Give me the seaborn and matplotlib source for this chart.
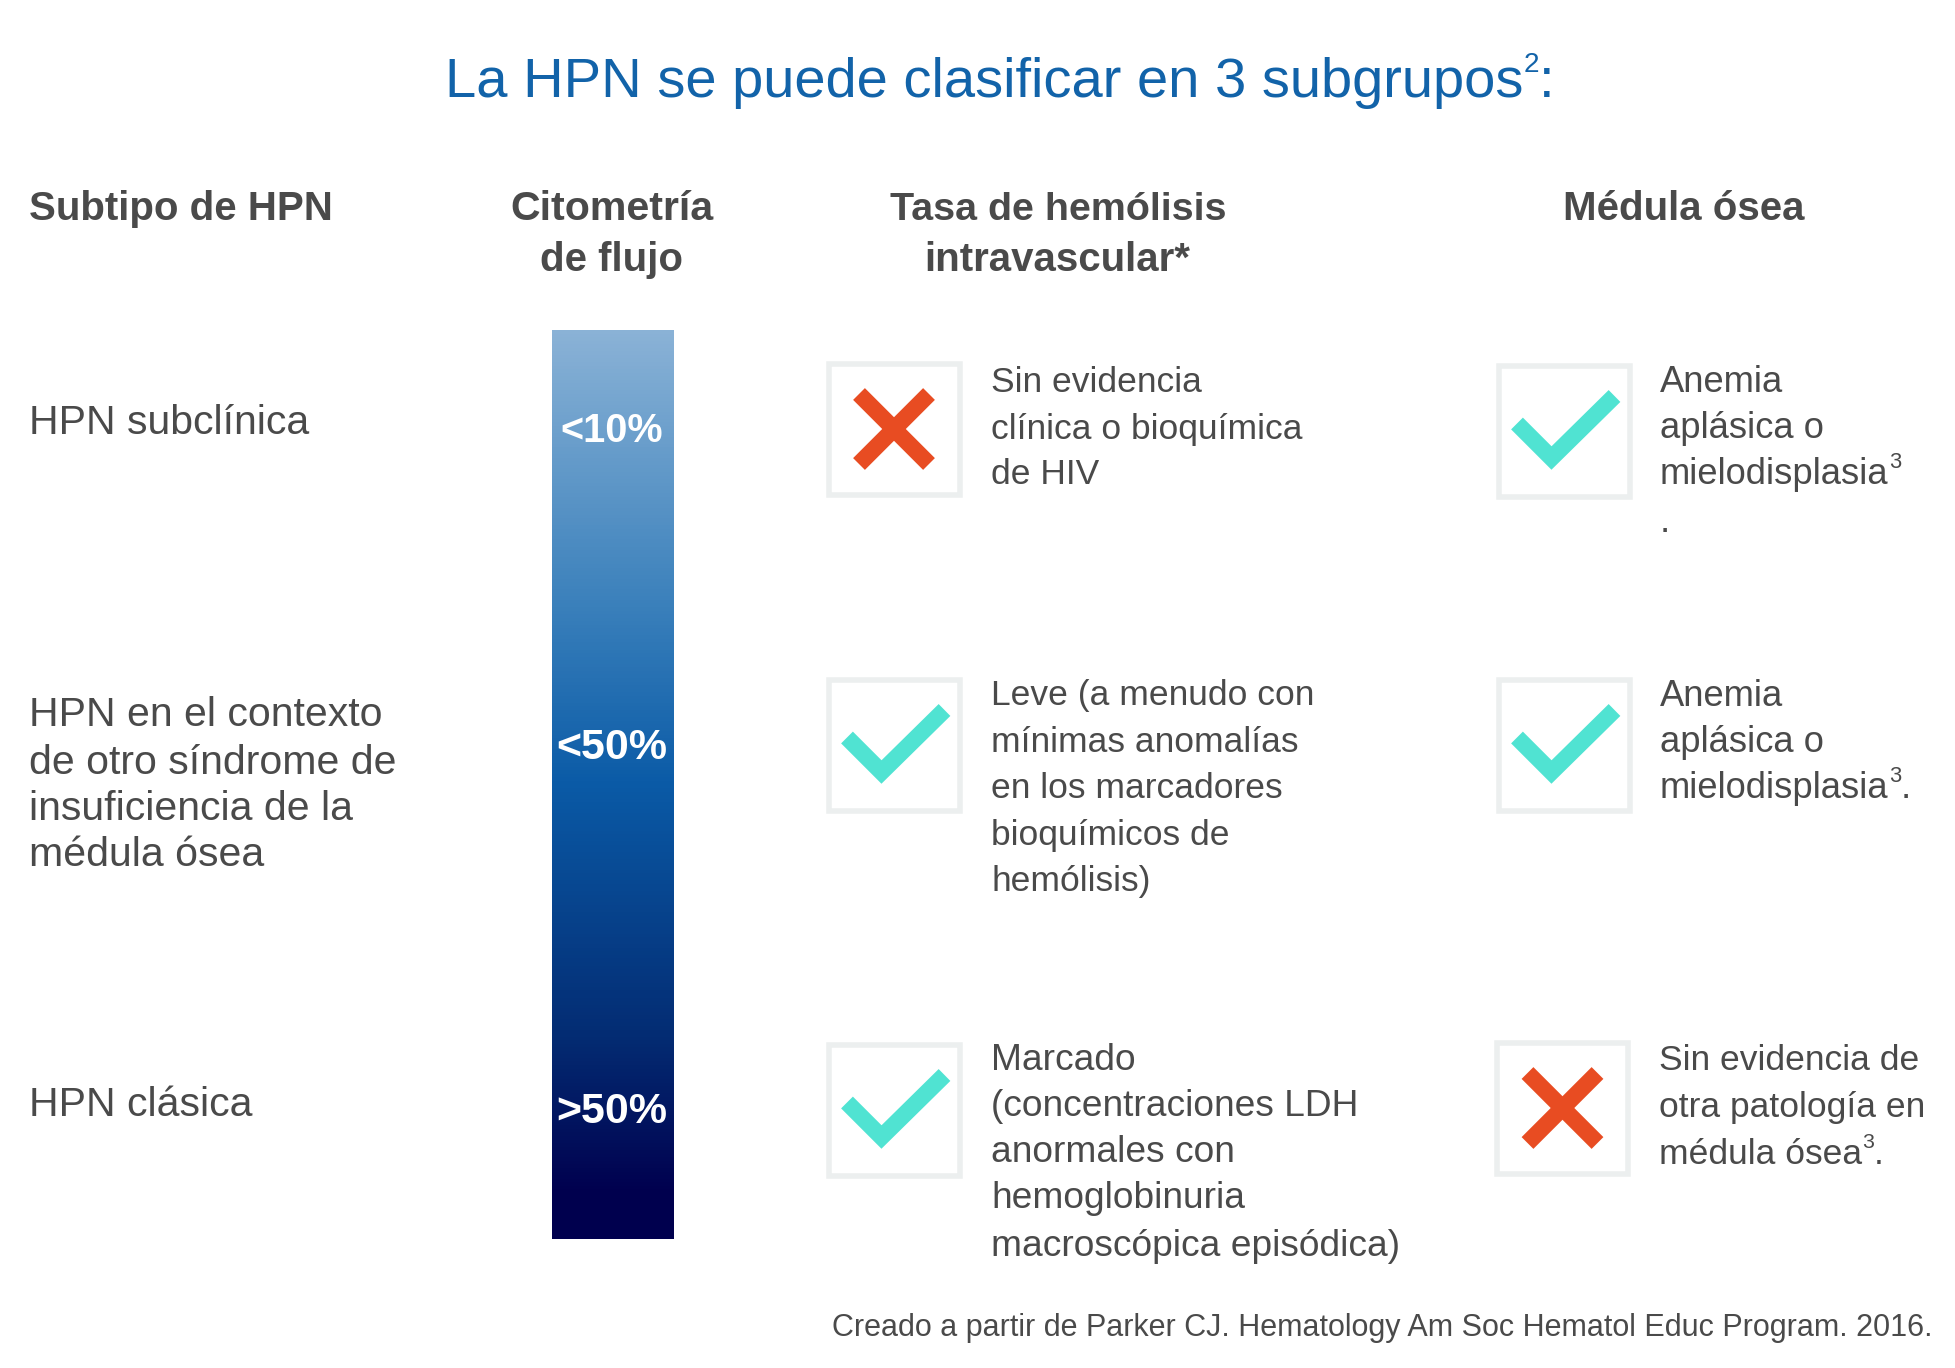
import numpy as np
import matplotlib
matplotlib.use("Agg")
import matplotlib.pyplot as plt
from matplotlib.colors import LinearSegmentedColormap
from matplotlib.patches import Rectangle
import seaborn as sns

# chart content
title = "La HPN se puede clasificar en 3 subgrupos"
title_note = "2"
subtypes = [["HPN subclínica"],
            ["HPN en el contexto", "de otro síndrome de", "insuficiencia de la", "médula ósea"],
            ["HPN clásica"]]
flow_labels = ["<10%", "<50%", ">50%"]
hemolysis_marks = ["no", "yes", "yes"]
marrow_marks = ["yes", "yes", "no"]
hemolysis_text = [["Sin evidencia", "clínica o bioquímica", "de HIV"],
                  ["Leve (a menudo con", "mínimas anomalías", "en los marcadores", "bioquímicos de", "hemólisis)"],
                  ["Marcado", "(concentraciones LDH", "anormales con", "hemoglobinuria", "macroscópica episódica)"]]
marrow_text = [["Anemia", "aplásica o", "mielodisplasia", "."],
               ["Anemia", "aplásica o", "mielodisplasia"],
               ["Sin evidencia de", "otra patología en", "médula ósea"]]
source = "Creado a partir de Parker CJ. Hematology Am Soc Hematol Educ Program. 2016."

# colour ramp of the flow cytometry bar, top to bottom
ramp_stops = [0.0, 0.30, 0.50, 0.78, 0.95, 1.0]
ramp_colors = ["#8AB2D6", "#3A80BB", "#0A5AA6", "#032B72", "#00004E", "#00004E"]

# layout in pixels
BLUE = "#1263A9"
GREY = "#4A4A4A"
BODY = 25.5
TITLE = 40.4
row_centers = [429, 745, 1110]
marrow_centers = [431, 745, 1108]
flow_centers = [431, 748, 1112]
flow_sizes = [28.5, 31, 31]

plt.rcParams["font.family"] = ["Liberation Sans", "DejaVu Sans"]
sns.set_style("white")
plt.rcParams["font.family"] = ["Liberation Sans", "DejaVu Sans"]

fig = plt.figure(figsize=(19.56, 13.68), dpi=100)
ax = fig.add_axes([0, 0, 1, 1])
ax.set_xlim(0, 1956)
ax.set_ylim(1368, 0)
ax.axis("off")


def note_after(txt, note, size, color, scale=0.6):
    # small raised number right after a text, returns the right edge in pixels
    box = txt.get_window_extent(fig.canvas.get_renderer())
    x, y = txt.get_position()
    n = ax.text(box.x1, y - size * 0.62, note, fontsize=size * scale, color=color, va="baseline")
    return n.get_window_extent(fig.canvas.get_renderer()).x1


def lines(x, baselines, rows, size=BODY, **kw):
    out = []
    for y, row in zip(baselines, rows):
        out.append(ax.text(x, y, row, fontsize=size, color=GREY, va="baseline", **kw))
    return out


def draw_box(cx, cy, mark):
    ax.add_patch(Rectangle((cx - 65.5, cy - 65.5), 131, 131, fill=False, ec="#ECEFEF", lw=4))
    if mark == "no":
        ax.plot([cx - 35, cx + 35], [cy - 35, cy + 35], color="#E84C22", lw=12, solid_capstyle="butt")
        ax.plot([cx - 35, cx + 35], [cy + 35, cy - 35], color="#E84C22", lw=12, solid_capstyle="butt")
    else:
        ax.plot([cx - 47, cx - 12.5, cx + 50.5], [cy - 7.5, cy + 27, cy - 35], color="#50E3D2", lw=12,
                solid_capstyle="butt", solid_joinstyle="miter")


# title
t = ax.text(445, 97, title, fontsize=TITLE, color=BLUE, va="baseline")
right = note_after(t, title_note, TITLE, BLUE, scale=0.5)
ax.text(right, 97, ":", fontsize=TITLE, color=BLUE, va="baseline")

# headers
head = dict(fontweight="bold", color=GREY, va="baseline")
ax.text(29, 220, "Subtipo de HPN", fontsize=29, **head)
ax.text(612, 220, "Citometría", ha="center", fontsize=29.6, **head)
ax.text(612, 271, "de flujo", ha="center", fontsize=29, **head)
ax.text(1058, 220, "Tasa de hemólisis", ha="center", fontsize=28.4, **head)
ax.text(1057, 271, "intravascular*", ha="center", fontsize=29, **head)
ax.text(1684, 220, "Médula ósea", ha="center", fontsize=29, **head)

# left column
lines(29, [434.5], subtypes[0], size=29.5)
lines(29, [726, 773.5, 820, 866], subtypes[1], size=29.5)
lines(29, [1115.5], subtypes[2], size=29.5)

# flow cytometry bar
bar_ax = fig.add_axes([552 / 1956, 1 - 1239 / 1368, 122 / 1956, 909 / 1368])
cmap = LinearSegmentedColormap.from_list("flow", list(zip(ramp_stops, ramp_colors)))
sns.heatmap(np.linspace(0, 1, 512).reshape(-1, 1), ax=bar_ax, cmap=cmap, vmin=0, vmax=1, cbar=False,
            xticklabels=False, yticklabels=False)
for cy, label, size in zip(flow_centers, flow_labels, flow_sizes):
    ax.text(612, cy, label, fontsize=size, fontweight="bold", color="white", ha="center", va="center", zorder=5)
ax.set_zorder(2)
ax.patch.set_visible(False)

# hemolysis column
for cy, mark in zip(row_centers, hemolysis_marks):
    draw_box(894, cy, mark)
lines(991, [391.5, 438.5, 484.5], hemolysis_text[0])
lines(991, [705.5, 751.5, 798.5, 845.5, 891.5], hemolysis_text[1])
lines(991, [1069.5, 1116.5, 1162.5, 1208.5, 1255.5], hemolysis_text[2], size=26.7)

# bone marrow column
for cy, mark in zip(marrow_centers, marrow_marks):
    draw_box(1564 if cy != 1108 else 1562.5, cy, mark)
m1 = lines(1660, [391.5, 438.5, 484.5, 531.5], marrow_text[0], size=26.2)
note_after(m1[2], "3", 26.2, GREY)
m2 = lines(1660, [705.5, 751.5, 798.5], marrow_text[1], size=26.2)
r = note_after(m2[2], "3", 26.2, GREY)
ax.text(r, 798.5, ".", fontsize=26.2, color=GREY, va="baseline")
m3 = lines(1659, [1069.5, 1117.5, 1163.5], marrow_text[2])
r = note_after(m3[2], "3", BODY, GREY)
ax.text(r, 1163.5, ".", fontsize=BODY, color=GREY, va="baseline")

# source line
ax.text(1932, 1336, source, fontsize=22, color=GREY, ha="right", va="baseline")

fig.savefig("out.png", dpi=100)
